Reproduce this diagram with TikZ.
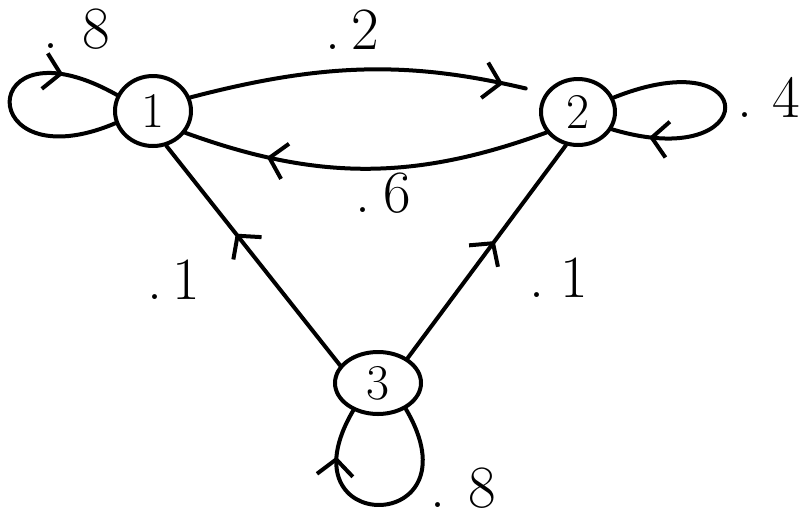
\documentclass[tikz,border=0pt]{standalone}
\usetikzlibrary{shapes.geometric,arrows.meta,decorations.markings}
\begin{document}
\begin{tikzpicture}[x=1pt,y=1pt,
  state/.style={ellipse,draw,line width=4pt,inner sep=0pt,font=\fontsize{50}{52}\selectfont},
  edge/.style={line width=4pt,line cap=round},
  midarrow/.style={postaction={decorate},decoration={markings,mark=at position #1 with {\arrow{Straight Barb[length=16pt,width=36pt,line width=4pt]}}}},
  lbl/.style={font=\fontsize{60}{62}\selectfont,inner sep=0pt}]
\useasboundingbox (0,0) rectangle (806,-523);
% states
\node[state,minimum width=76pt,minimum height=70pt] (n1) at (153,-111) {1};
\node[state,minimum width=74pt,minimum height=66pt] (n2) at (578,-112) {2};
\node[state,minimum width=86pt,minimum height=62pt] (n3) at (378,-383) {3};
% transitions between states
\draw[edge,midarrow=0.88,shorten >=20pt] (n1.20) to[bend left=14] (n2.150);
\draw[edge,midarrow=0.77] (n2.213) to[bend left=20] (n1.326);
\draw[edge,midarrow=0.6] (n3.155) -- (n1.291);
\draw[edge,midarrow=0.55] (n3.40) -- (n2.250);
% self loops
\draw[edge,midarrow=0.77] (n1.198) .. controls +(-142,-60) and +(-142,80) .. (n1.156);
\draw[edge,midarrow=0.85] (n2.22) .. controls +(150,60) and +(150,-45) .. (n2.333);
\draw[edge,midarrow=0.8] (n3.317) .. controls +(75,-127) and +(-75,-127) .. (n3.228);
% labels
\node[lbl] (l11) at (77,-29) {.\kern24pt 8};
\node[lbl] (l12) at (352,-30) {.\kern11pt 2};
\node[lbl] (l21) at (383,-193) {.\kern13pt 6};
\node[lbl] (l22) at (769,-97) {.\kern20pt 4};
\node[lbl] (l31) at (174,-280) {.\kern10pt 1};
\node[lbl] (l32) at (559,-278) {.\kern16pt 1};
\node[lbl] (l33) at (463,-488) {.\kern23pt 8};
\end{tikzpicture}
\end{document}
